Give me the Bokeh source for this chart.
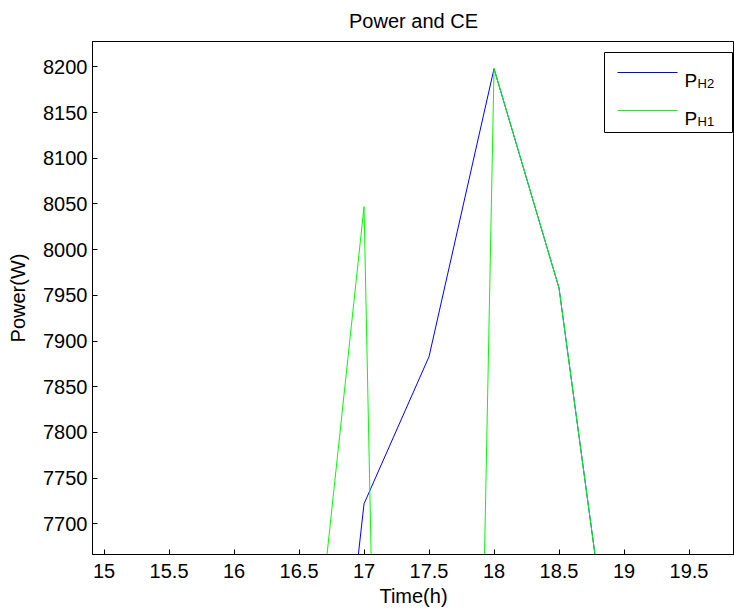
from bokeh.plotting import figure
from bokeh.models import (Range1d, FixedTicker, BoxAnnotation, Arrow, Label)
from bokeh.embed import file_html
from bokeh.resources import INLINE

# ---- data ----
time_h = [16.5, 17.0, 17.5, 18.0, 18.5, 19.0]
p_h2 = [7087, 7722, 7883, 8198, 7958, 7431]
p_h1 = [7379, 8047, 4560, 8198, 7958, 7431]
series_names = ["P", "P"]
series_subs = ["H2", "H1"]
series_colors = ["#0000ff", "#00ff00"]

x_ticks = [15, 15.5, 16, 16.5, 17, 17.5, 18, 18.5, 19, 19.5]
x_tick_labels = ["15", "15.5", "16", "16.5", "17", "17.5", "18", "18.5", "19", "19.5"]
y_ticks = [7700, 7750, 7800, 7850, 7900, 7950, 8000, 8050, 8100, 8150, 8200]
y_tick_labels = [str(v) for v in y_ticks]

FONT = "Liberation Sans"
FS = "20px"

p = figure(width=734, height=609, output_backend="svg", toolbar_location=None,
           x_range=Range1d(14.911, 19.85), y_range=Range1d(7666.5, 8227.7),
           title="Power and CE",
           min_border_left=92, min_border_right=0, min_border_top=41, min_border_bottom=55)

p.title.text_font = FONT
p.title.text_font_size = FS
p.title.text_font_style = "normal"
p.title.align = "center"
p.title.vertical_align = "top"
p.title.text_color = "black"
p.title.standoff = 16

p.xgrid.visible = False
p.ygrid.visible = False
p.outline_line_color = "black"
p.outline_line_alpha = 1
p.outline_line_width = 1
p.background_fill_color = "white"
p.border_fill_color = "white"

p.line(time_h, p_h2, line_color=series_colors[0], line_width=1)
p.line(time_h, p_h1, line_color=series_colors[1], line_width=1)

xa = p.xaxis[0]
xa.ticker = FixedTicker(ticks=x_ticks)
xa.major_label_overrides = {t: l for t, l in zip(x_ticks, x_tick_labels)}
xa.axis_label = "Time(h)"
ya = p.yaxis[0]
ya.ticker = FixedTicker(ticks=y_ticks)
ya.major_label_overrides = {t: l for t, l in zip(y_ticks, y_tick_labels)}
ya.axis_label = "Power(W)"

for ax in (xa, ya):
    ax.minor_tick_line_color = None
    ax.major_tick_in = 5
    ax.major_tick_out = 0
    ax.major_label_text_font = FONT
    ax.major_label_text_font_size = FS
    ax.major_label_text_color = "black"
    ax.axis_label_text_font = FONT
    ax.axis_label_text_font_size = FS
    ax.axis_label_text_font_style = "normal"
    ax.axis_label_text_color = "black"
    ax.axis_line_color = "black"
    ax.major_tick_line_color = "black"

xa.major_label_standoff = 9
xa.axis_label_standoff = 4
ya.major_label_standoff = 5
ya.axis_label_standoff = 11

# ---- legend (screen units relative to the plot frame) ----
p.add_layout(BoxAnnotation(left=512, right=640, top=502, bottom=422,
                           left_units="screen", right_units="screen",
                           top_units="screen", bottom_units="screen",
                           fill_color="white", fill_alpha=1.0,
                           line_color="black", line_alpha=1.0, line_width=1))
legend_rows_y = [482, 444]
text_base = [474, 435.7]
for i in range(2):
    p.add_layout(Arrow(end=None, x_start=525, y_start=legend_rows_y[i],
                       x_end=585, y_end=legend_rows_y[i],
                       start_units="screen", end_units="screen",
                       line_color=series_colors[i], line_width=1))
    p.add_layout(Label(x=592, y=text_base[i], x_units="screen", y_units="screen",
                       text=series_names[i], text_font=FONT, text_font_size="19px",
                       text_baseline="alphabetic", text_color="black"))
    p.add_layout(Label(x=605, y=text_base[i] - 3, x_units="screen", y_units="screen",
                       text=series_subs[i], text_font=FONT, text_font_size="13px",
                       text_baseline="alphabetic", text_color="black"))

open("out.html", "w").write(file_html(p, INLINE))
